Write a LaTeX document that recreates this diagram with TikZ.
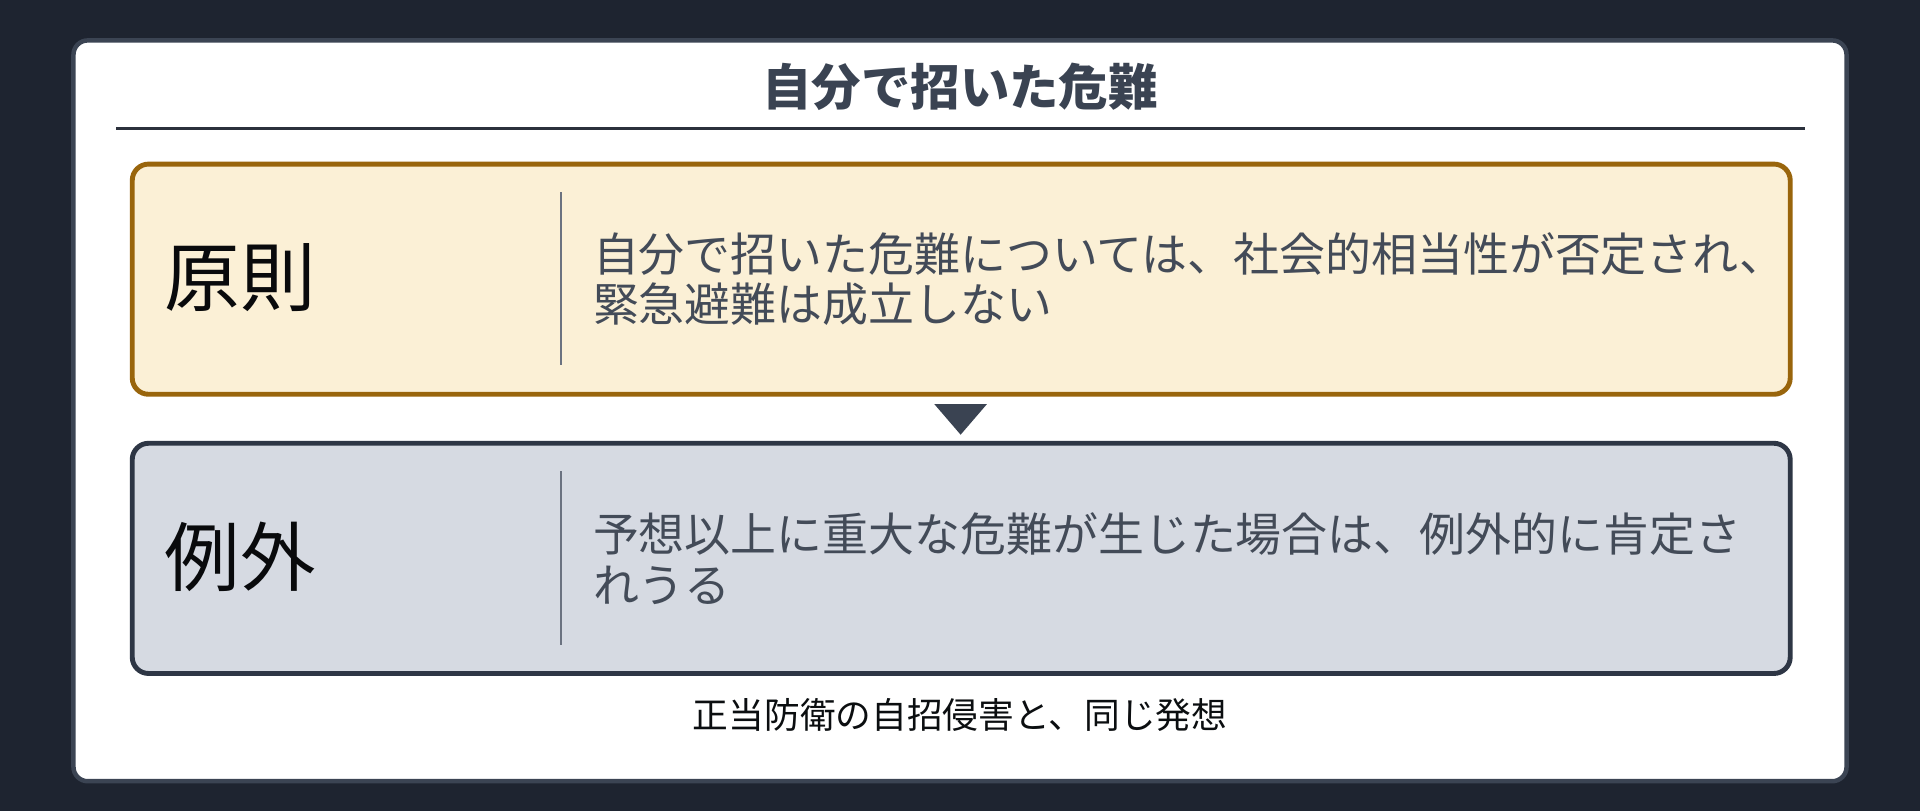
\documentclass[tikz,border=0pt]{standalone}
\usepackage{fontspec}
\setmainfont{Noto Sans CJK JP}
\definecolor{bgdark}{HTML}{1E2430}
\definecolor{cardline}{HTML}{3B4453}
\definecolor{slate}{HTML}{3A4352}
\definecolor{ruledark}{HTML}{2B313C}
\definecolor{warmfill}{HTML}{FBF0D6}
\definecolor{warmline}{HTML}{99650C}
\definecolor{coolfill}{HTML}{D6DAE2}
\definecolor{coolline}{HTML}{2E3645}
\definecolor{bodytext}{HTML}{434B58}
\definecolor{divgrey}{HTML}{6B7280}
\begin{document}
\begin{tikzpicture}[x=0.6pt,y=-0.6pt,
    card/.style={fill=white,draw=cardline,line width=2.2pt,rounded corners=7pt},
    casebox/.style={line width=2.4pt,rounded corners=8pt},
    headword/.style={anchor=west,inner sep=0pt,text=black!85!slate,font=\fontsize{37pt}{40pt}\selectfont},
    bodyword/.style={anchor=west,inner sep=0pt,align=left,text=bodytext,font=\fontsize{22.5pt}{24.8pt}\selectfont},
    divider/.style={draw=divgrey,line width=1.2pt}]
    \fill[bgdark] (0,0) rectangle (1568,662);
    \useasboundingbox (0,0) rectangle (1568,662);

    % card and title
    \draw[card] (60,33) rectangle (1508,638);
    \node[font=\bfseries\fontsize{24.2pt}{28pt}\selectfont,text=slate,inner sep=0pt] (title) at (784,71) {自分で招いた危難};
    \coordinate (ruleL) at (95,105);
    \coordinate (ruleR) at (1474,105);
    \draw[ruledark,line width=1.2pt] (ruleL) -- (ruleR);

    % principle
    \draw[casebox,fill=warmfill,draw=warmline] (108,134) rectangle (1462,322);
    \coordinate (divAt) at (458,157);
    \coordinate (divAb) at (458,298);
    \draw[divider] (divAt) -- (divAb);
    \node[headword] (gensoku) at (134,227) {原則};
    \node[bodyword] (gensokuText) at (484,228) {自分で招いた危難については、社会的相当性が否定され、\\緊急避難は成立しない};

    % arrow
    \coordinate (tipL) at (763,330);
    \coordinate (tipR) at (806,330);
    \coordinate (tipB) at (784.5,355);
    \fill[slate] (tipL) -- (tipR) -- (tipB) -- cycle;

    % exception
    \draw[casebox,fill=coolfill,draw=coolline] (108,362) rectangle (1462,550);
    \coordinate (divBt) at (458,385);
    \coordinate (divBb) at (458,527);
    \draw[divider] (divBt) -- (divBb);
    \node[headword] (reigai) at (134,455) {例外};
    \node[bodyword] (reigaiText) at (484,456) {予想以上に重大な危難が生じた場合は、例外的に肯定さ\\れうる};

    % note
    \node[font=\fontsize{17.5pt}{20pt}\selectfont,text=black!80!slate,inner sep=0pt] (note) at (784,584) {正当防衛の自招侵害と、同じ発想};
\end{tikzpicture}
\end{document}
